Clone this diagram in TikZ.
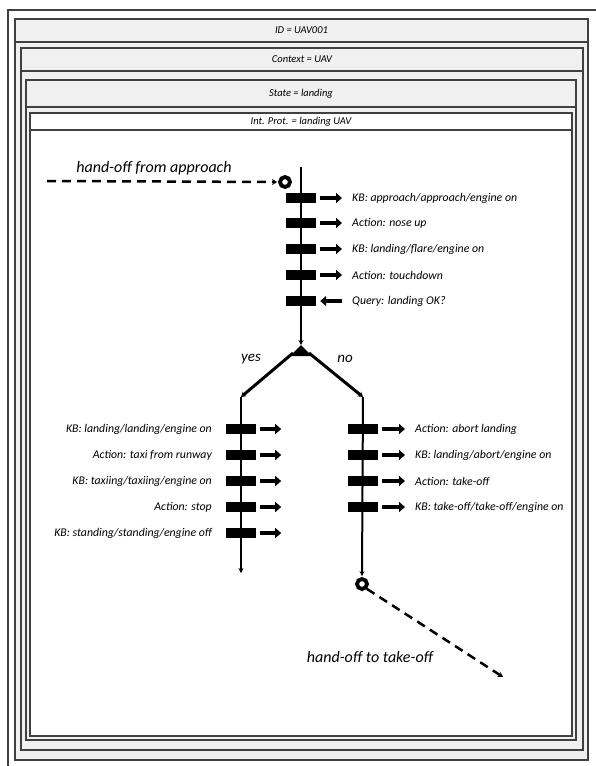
\documentclass[tikz,border=0pt]{standalone}
\usepackage{fontspec}
\setmainfont{Carlito}
\usetikzlibrary{positioning,arrows.meta,calc}
\tikzset{
    x=1pt,
    y=-1pt,
    box/.style = {
        draw=black!75,
        line width=1.2pt,
        fill=black!6
    },
    inbox/.style = {
        draw=black!75,
        line width=1.2pt,
        fill=white
    },
    head/.style = {
        font=\itshape\fontsize{10.5}{12}\selectfont,
        inner sep=0pt
    },
    bar/.style = {
        fill=black,
        shape=rectangle,
        minimum width=30pt,
        minimum height=10pt,
        inner sep=0pt
    },
    lbl/.style = {
        font=\itshape\fontsize{11.8}{14}\selectfont,
        inner sep=0pt
    },
    big/.style = {
        font=\itshape\fontsize{16}{19}\selectfont,
        inner sep=0pt
    },
    port/.style = {
        draw,
        shape=circle,
        line width=3.8pt,
        minimum size=10pt,
        inner sep=0pt
    },
    flow/.style = {line width=2pt, -{Stealth[length=5pt,width=5pt]}},
    branch/.style = {line width=3pt, -{Stealth[length=5pt,width=6pt]}},
    fat/.style = {line width=3.2pt, -{Triangle[length=6pt,width=10pt]}},
    hand/.style = {line width=2.5pt, dash pattern=on 9pt off 6pt,
        -{Stealth[length=5pt,width=6pt]}},
}

\begin{document}
\begin{tikzpicture}
            \useasboundingbox (0,0) rectangle (595,766);

            % nested frames
            \draw[black!75, line width=1.2pt] (8,10) rectangle (605,780);
            \draw[box] (15,19) rectangle (588,760);
            \draw[box] (15,42) -- (588,42);
            \node[head] (id) at (301.5,30.5) {ID = UAV001};
            \draw[box] (21,48) rectangle (583,750);
            \draw[box] (21,71) -- (583,71);
            \node[head] (ctx) at (302,59.5) {Context = UAV};
            \draw[box] (26,80) rectangle (576,740);
            \draw[box] (26,107) -- (576,107);
            \node[head] (state) at (301,93.5) {State = landing};
            \draw[inbox] (30,113) rectangle (572,736);
            \draw[inbox] (30,130) -- (572,130);
            \node[head] (prot) at (301,121.5) {Int. Prot. = landing UAV};

            % main line
            \coordinate (top) at (301,167);
            \coordinate (fork) at (301,345);
            \node[port] (in) at (285,182) {};
            \coordinate (src) at (47,181);
            \node[big] (from) at (154,168) {hand-off from approach};
            \path[draw, hand] (src) -- ([xshift=-1]in.west);
            \path[draw, flow] (top) -- (fork);
            \node[bar] (b1) at (301,198) {};
            \node[bar] (b2) at (301,223) {};
            \node[bar] (b3) at (301,249) {};
            \node[bar] (b4) at (301,275) {};
            \node[bar] (b5) at (301,301) {};
            \node[lbl, anchor=west] (t1) at (352,198) {KB: approach/approach/engine on};
            \node[lbl, anchor=west] (t2) at (352,223) {Action: nose up};
            \node[lbl, anchor=west] (t3) at (352,249) {KB: landing/flare/engine on};
            \node[lbl, anchor=west] (t4) at (352,275) {Action: touchdown};
            \node[lbl, anchor=west] (t5) at (352,301) {Query: landing OK?};
            \foreach \i in {1,...,4}
                \path[draw, fat] ([xshift=4]b\i.east) -- ([xshift=-10]t\i.west |- b\i.east);
            \path[draw, fat] ([xshift=-10]t5.west |- b5.east) -- ([xshift=4]b5.east);

            % fork
            \path[fill] (fork) -- ++(-11,11) -- ++(22,0) -- cycle;
            \coordinate (yes) at (241,397);
            \coordinate (no) at (363,397);
            \path[draw, branch] ($(fork)+(-8,8)$) -- (yes);
            \path[draw, branch] ($(fork)+(8,8)$) -- (no);
            \node[lbl, font=\itshape\fontsize{15}{18}\selectfont] (y) at (251,359) {yes};
            \node[lbl, font=\itshape\fontsize{15}{18}\selectfont] (n) at (345,359) {no};

            % yes branch
            \coordinate (stop) at (241,573);
            \path[draw, flow] (yes) -- (stop);
            \foreach \i/\y/\t in {1/429/{KB: landing/landing/engine on},
                                  2/455/{Action: taxi from runway},
                                  3/481/{KB: taxiing/taxiing/engine on},
                                  4/507/{Action: stop},
                                  5/533/{KB: standing/standing/engine off}} {
                \node[bar] (l\i) at (241,\y) {};
                \node[lbl, anchor=east] (lt\i) at (212,\y) {\t};
                \path[draw, fat] ([xshift=4]l\i.east) -- ++(21,0);
            }

            % no branch
            \node[port] (out) at (362,584) {};
            \path[draw, flow] (no) -- ([yshift=1]out.north);
            \foreach \i/\y/\t in {1/429/{Action: abort landing},
                                  2/455/{KB: landing/abort/engine on},
                                  3/481/{Action: take-off},
                                  4/507/{KB: take-off/take-off/engine on}} {
                \node[bar] (r\i) at (363,\y) {};
                \node[lbl, anchor=west] (rt\i) at (415,\y) {\t};
                \path[draw, fat] ([xshift=4]r\i.east) -- ([xshift=-10]rt\i.west |- r\i.east);
            }
            \coordinate (dst) at (503,677);
            \path[draw, hand] (out.south east) -- (dst);
            \node[big] (to) at (370,657) {hand-off to take-off};
\end{tikzpicture}
\end{document}
